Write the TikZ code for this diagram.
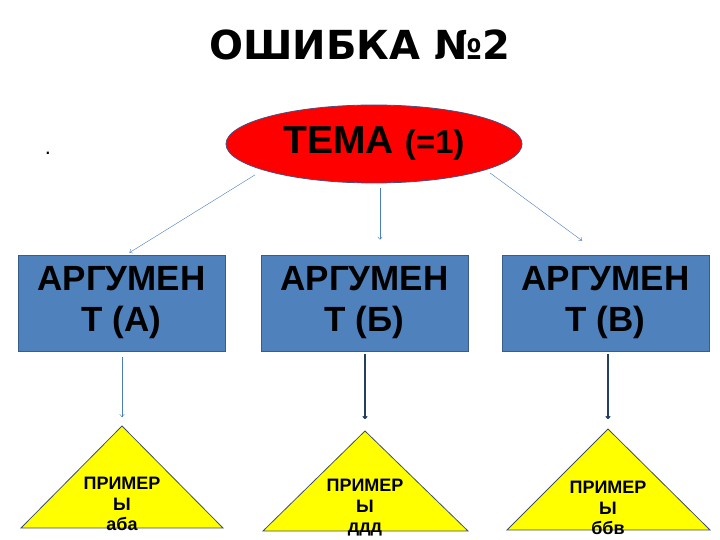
\documentclass[tikz,border=0pt]{standalone}
\usepackage{fontspec}
\setmainfont{Liberation Sans}
\newfontfamily\titlefont{DejaVu Sans}
\usetikzlibrary{shapes.geometric,arrows.meta}
\definecolor{temared}{RGB}{255,0,0}
\definecolor{temaline}{RGB}{70,80,130}
\definecolor{argfill}{RGB}{79,129,189}
\definecolor{argline}{RGB}{56,93,138}
\definecolor{linkblue}{RGB}{74,126,187}
\definecolor{linkdark}{RGB}{36,63,96}
\definecolor{primfill}{RGB}{255,255,0}
\definecolor{primline}{RGB}{64,79,111}
\tikzset{argument/.style={draw=argline,fill=argfill,thick,minimum width=207pt,minimum height=96pt,inner sep=0pt,align=center,font=\fontsize{35}{41}\selectfont\bfseries}}
\tikzset{primer/.style={draw=primline,fill=primfill,thick,line join=miter}}

\begin{document}
\begin{tikzpicture}[x=1pt,y=-1pt,
                    link/.style={-{To[length=3pt,width=5pt]},thin,linkblue},
                    link dark/.style={-{To[length=3pt,width=5pt]},line width=1.3pt,linkdark},
                    primer text/.style={align=center,inner sep=0pt,font=\fontsize{18}{20.5}\selectfont\bfseries}]

    \useasboundingbox (0,0) rectangle (720,540);

    % Заголовок
    \node (title) at (360,45) {\titlefont\fontsize{40}{44}\selectfont\bfseries ОШИБКА №2};

    % Точка слева
    \node (dot) at (48,153) {\fontsize{22}{22}\selectfont .};

    % Тема
    \node [ellipse,draw=temaline,fill=temared,thick,minimum width=296pt,minimum height=78pt,inner sep=0pt]
        (tema) at (374,144) {\fontsize{39}{40}\selectfont\bfseries ТЕМА \fontsize{33}{34}\selectfont(=1)};

    % Аргументы
    \node [argument] (argA) at (121.5,303) {АРГУМЕН\\Т (А)};
    \node [argument] (argB) at (364.5,303) {АРГУМЕН\\Т (Б)};
    \node [argument] (argC) at (605.5,303) {АРГУМЕН\\Т (В)};

    % Треугольники примеров
    \coordinate (topA) at (122,426);
    \coordinate (topB) at (365,431);
    \coordinate (topC) at (608,429);
    \draw [primer] (topA) -- (21,528) -- (223,528) -- cycle;
    \draw [primer] (topB) -- (263,531) -- (468,531) -- cycle;
    \draw [primer] (topC) -- (507,530) -- (710,530) -- cycle;

    \node [primer text] (primA) at (122,504) {ПРИМЕР\\Ы\\аба};
    \node [primer text] (primB) at (365,508) {ПРИМЕР\\Ы\\ддд};
    \node [primer text] (primC) at (608,508) {ПРИМЕР\\Ы\\ббв};

    % Стрелки от темы
    \draw [link] ([xshift=-14pt,yshift=-3pt]tema.south west) -- ([xshift=8pt,yshift=2pt]argA.north);
    \draw [link] ([xshift=6pt,yshift=-5pt]tema.south) -- ([xshift=15.5pt,yshift=15pt]argB.north);
    \draw [link] ([xshift=11pt,yshift=-1pt]tema.south east) -- ([xshift=-23.5pt,yshift=14pt]argC.north);

    % Стрелки к примерам
    \draw [link] ([xshift=0.5pt,yshift=-6pt]argA.south) -- ([yshift=9pt]topA);
    \draw [link dark] ([xshift=0.5pt,yshift=-3pt]argB.south) -- ([yshift=12pt]topB);
    \draw [link dark] ([xshift=2.5pt,yshift=-3pt]argC.south) -- ([yshift=10pt]topC);

\end{tikzpicture}
\end{document}
